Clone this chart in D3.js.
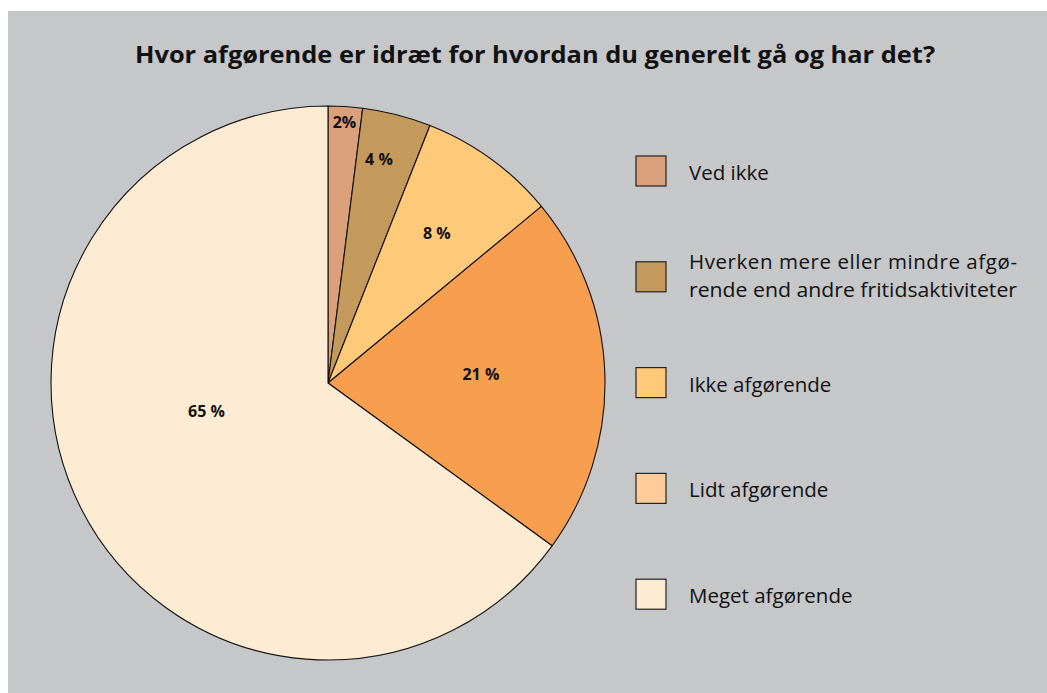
<!DOCTYPE html>
<html><head><meta charset="utf-8">
<script src="https://cdn.jsdelivr.net/npm/d3@7"></script>
<style>body{margin:0;background:#fff} svg{display:block}</style>
</head><body>
<svg id="chart" width="1047" height="693"></svg>
<script>
// ---- data ----
const title = "Hvor afgørende er idræt for hvordan du generelt gå og har det?";
const categories = ["Ved ikke", "Hverken mere eller mindre afgørende end andre fritidsaktiviteter", "Ikke afgørende", "Lidt afgørende", "Meget afgørende"];
const legendLines = [["Ved ikke"], ["Hverken mere eller mindre afgø-", "rende end andre fritidsaktiviteter"], ["Ikke afgørende"], ["Lidt afgørende"], ["Meget afgørende"]];
const values = [2, 4, 8, 21, 65];
const valueLabels = ["2%", "4 %", "8 %", "21 %", "65 %"];
const sliceColors = ["#D9A07A", "#C49A5C", "#FEC978", "#F89F4F", "#FDEBD3"];
const legendColors = ["#D9A07A", "#C49A5C", "#FEC978", "#FECB9B", "#FDEBD3"];

// ---- layout ----
const W = 1047, H = 693;
const cx = 328, cy = 383, R = 277;
const labelRadiusFrac = [0.944, 0.83, 0.668, 0.553, 0.45];
const labelAngleNudge = [0, -1.6, 0, -1.6, 14]; // degrees
const FONT = "'Open Sans', 'Noto Sans', sans-serif";

const svg = d3.select("#chart");
svg.append("rect").attr("x", 8).attr("y", 11).attr("width", W - 8).attr("height", H - 11).attr("fill", "#C6C7C9");

// title
svg.append("text").attr("x", 535).attr("y", 63).attr("text-anchor", "middle")
  .attr("font-family", FONT).attr("font-weight", "bold").attr("font-size", 24).attr("fill", "#111")
  .attr("textLength", 800).attr("lengthAdjust", "spacingAndGlyphs")
  .text(title);

// pie
const pie = d3.pie().sort(null).value(d => d);
const arcs = pie(values);
const arc = d3.arc().innerRadius(0).outerRadius(R);
const g = svg.append("g").attr("transform", `translate(${cx},${cy})`);
g.selectAll("path.slice").data(arcs).join("path").attr("class", "slice")
  .attr("d", arc).attr("fill", (d, i) => sliceColors[i])
  .attr("stroke", "#111").attr("stroke-width", 1.1).attr("stroke-linejoin", "round");

g.selectAll("text.lbl").data(arcs).join("text").attr("class", "lbl")
  .attr("transform", (d, i) => {
    const a = (d.startAngle + d.endAngle) / 2 + labelAngleNudge[i] * Math.PI / 180;
    const r = R * labelRadiusFrac[i];
    return `translate(${r * Math.sin(a)},${-r * Math.cos(a)})`;
  })
  .attr("dy", "0.36em").attr("text-anchor", "middle")
  .attr("font-family", FONT).attr("font-weight", "bold").attr("font-size", 16).attr("fill", "#111")
  .text((d, i) => valueLabels[i]);

// legend
const legendX = 636, legendY0 = 156, legendStep = 105.8, box = 30, textX = 689, lineH = 28;
const lg = svg.append("g");
categories.forEach((c, i) => {
  const y = legendY0 + i * legendStep;
  lg.append("rect").attr("x", legendX).attr("y", y).attr("width", box).attr("height", box)
    .attr("fill", legendColors[i]).attr("stroke", "#222").attr("stroke-width", 1.2);
  const lines = legendLines[i];
  const n = lines.length;
  const center = y + box / 2;
  lines.forEach((ln, j) => {
    const base = center + 9 + (j - (n - 1) / 2) * lineH - (n > 1 ? 3 : 0);
    const tx = lg.append("text").attr("x", textX).attr("y", base)
      .attr("font-family", FONT).attr("font-size", 20.5).attr("fill", "#111").text(ln);
    if (n > 1) tx.attr("textLength", 328).attr("lengthAdjust", j === 0 ? "spacing" : "spacingAndGlyphs");
  });
});
</script>
</body></html>
